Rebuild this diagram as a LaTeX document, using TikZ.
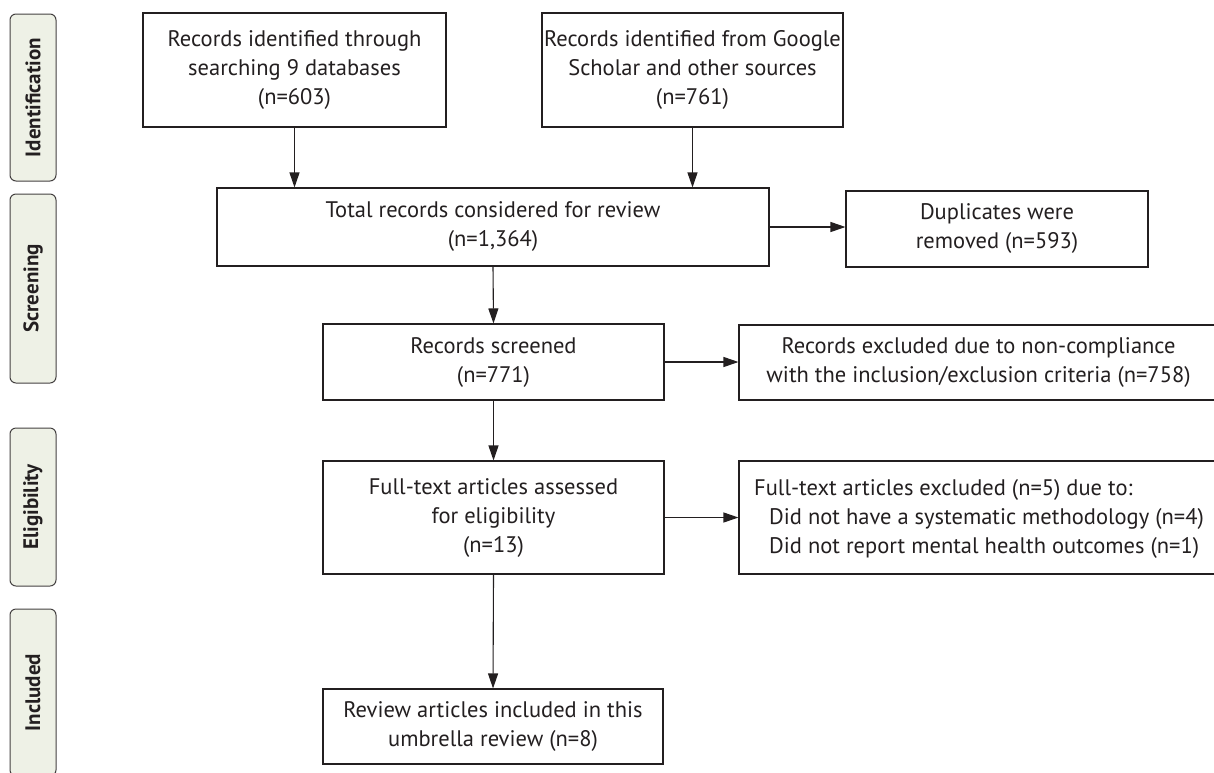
\documentclass[tikz,border=0pt]{standalone}
\usepackage{fontspec}
\setmainfont{PT Sans}
\usetikzlibrary{arrows.meta}
\definecolor{ink}{HTML}{231F20}
\definecolor{labfill}{HTML}{EEF1E6}
\begin{document}
\begin{tikzpicture}[x=1pt,y=-1pt,
  box/.style={draw=ink,line width=1.1pt,text=ink,fill=white,inner sep=2pt,align=center,
    font=\fontsize{22.5}{29}\selectfont},
  phase/.style={draw=ink!85,line width=1pt,fill=labfill,rounded corners=6pt,rotate=90,
    minimum height=46pt,inner sep=0pt,text=ink,font=\fontsize{21}{24}\selectfont\bfseries},
  arr/.style={draw=ink,line width=1.1pt,-{Triangle[length=15pt,width=10pt]}}]
\useasboundingbox (0,0) rectangle (1214,772);
% phase labels
\node[phase,minimum width=167pt] (pid) at (33,97.5) {Identification};
\node[phase,minimum width=189pt] (psc) at (33,288.5) {Screening};
\node[phase,minimum width=158pt] (pel) at (33,507) {Eligibility};
\node[phase,minimum width=167pt] (pin) at (33,692.5) {Included};
% boxes
\node[box,minimum width=303pt,minimum height=114pt] (b1) at (294.5,70)
  {Records identified through\\searching 9 databases\\(n=603)};
\node[box,minimum width=301pt,minimum height=114pt] (b2) at (692.5,70)
  {Records identified from Google\\Scholar and other sources\\(n=761)};
\node[box,minimum width=552pt,minimum height=78pt] (tot) at (493,227)
  {Total records considered for review\\(n=1,364)};
\node[box,minimum width=302pt,minimum height=76pt] (dup) at (997,229)
  {Duplicates were\\removed (n=593)};
\node[box,minimum width=341pt,minimum height=76pt] (scr) at (493.5,362)
  {Records screened\\(n=771)};
\node[box,minimum width=479pt,minimum height=75pt] (ex1) at (978.5,362.5)
  {Records excluded due to non-compliance\\with the inclusion/exclusion criteria (n=758)};
\node[box,minimum width=341pt,minimum height=113pt] (ft) at (493.5,517.5)
  {Full-text articles assessed\\for eligibility\\(n=13)};
\node[box,minimum width=479pt,minimum height=113pt] (ex2) at (978.5,517.5) {};
\node[text=ink,align=left,anchor=west,inner sep=0pt,font=\fontsize{22.5}{29}\selectfont] (ex2t) at (754,519)
  {Full-text articles excluded (n=5) due to:\\
   \hspace*{15pt}Did not have a systematic methodology (n=4)\\
   \hspace*{15pt}Did not report mental health outcomes (n=1)};
\node[box,minimum width=340pt,minimum height=75pt] (rev) at (493,726.5)
  {Review articles included in this\\umbrella review (n=8)};
% connectors
\draw[arr] (b1.south) -- (b1.south |- tot.north);
\draw[arr] (b2.south) -- (b2.south |- tot.north);
\draw[arr] (tot.east) -- (tot.east -| dup.west);
\draw[arr] (tot.south) -- (scr.north);
\draw[arr] (scr.east) -- (scr.east -| ex1.west);
\draw[arr] (scr.south) -- (ft.north);
\draw[arr] (ft.east) -- (ft.east -| ex2.west);
\draw[arr] (ft.south) -- (rev.north);
\end{tikzpicture}
\end{document}
